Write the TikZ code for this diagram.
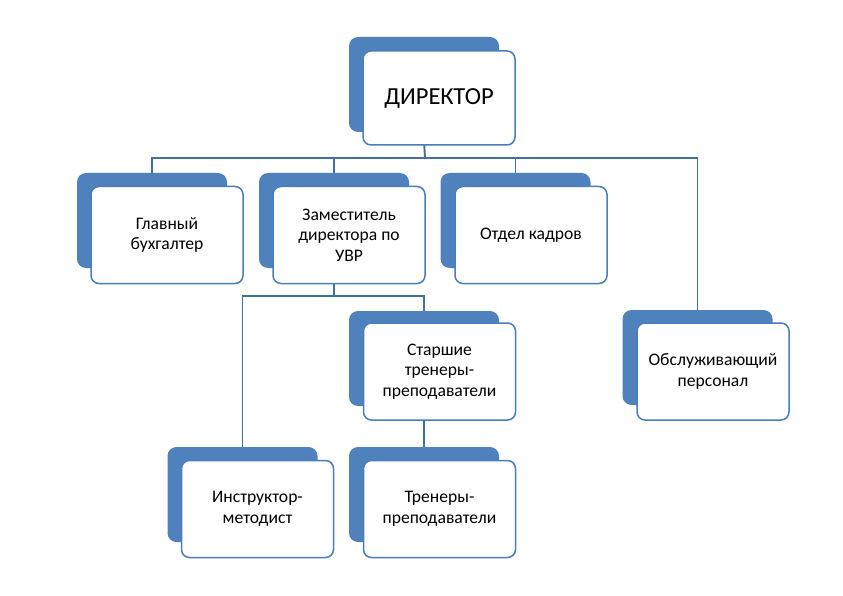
\documentclass[tikz,border=0pt]{standalone}
\usepackage{fontspec}
\setmainfont{Carlito}
\definecolor{blueb}{HTML}{4F81BD}
\definecolor{boxline}{HTML}{4A7EBB}
\definecolor{conn}{HTML}{41709C}
\begin{document}
\begin{tikzpicture}[x=1pt,y=-1pt,
  back/.style={fill=blueb, draw=none, rounded corners=9pt, minimum width=150pt, minimum height=95pt, inner sep=0pt},
  front/.style={fill=white, draw=boxline, line width=1.5pt, rounded corners=8pt, minimum width=152pt, minimum height=97pt, inner sep=2pt, align=center, font=\fontsize{17.6}{20.5}\selectfont},
  conline/.style={draw=conn, line width=1.9pt}]
\useasboundingbox (0,0) rectangle (843,596);
% backs
\node[back] (dirb) at (424,84.5) {};
\node[back] (gbb) at (152,220.5) {};
\node[back] (zamb) at (334,220.5) {};
\node[back] (okb) at (515.5,220.5) {};
\node[back] (osb) at (697.5,357.5) {};
\node[back] (stb) at (424,358.5) {};
\node[back] (inb) at (242.5,494.5) {};
\node[back] (trb) at (424,494.5) {};
% connectors
\coordinate (bus1) at (425,158);
\coordinate (bus2) at (334,296);
\draw[conline] (dirb.center |- 0,140) -- (bus1);
\draw[conline] (gbb.north) |- (bus1) -| (osb.north);
\draw[conline] (zamb.north) -- (zamb.north |- bus1);
\draw[conline] (okb.north) -- (okb.north |- bus1);
\draw[conline] (zamb.center) -- (bus2);
\draw[conline] (inb.north) |- (bus2) -| (stb.north);
\draw[conline] (stb.center) -- (trb.north);
% fronts
\node[front, font=\fontsize{24.5}{28}\selectfont, minimum height=94pt] (dir) at (439,98) {ДИРЕКТОР};
\node[front] (gb) at (167,235) {Главный\\бухгалтер};
\node[front] (zam) at (349,235) {Заместитель\\директора по\\УВР};
\node[front] (ok) at (531,235) {Отдел кадров};
\node[front] (os) at (713,371.5) {Обслуживающий\\персонал};
\node[front] (st) at (439.5,371.5) {Старшие\\тренеры-\\преподаватели};
\node[front] (in) at (257.5,509) {Инструктор-\\методист};
\node[front] (tr) at (439.5,509) {Тренеры-\\преподаватели};
\end{tikzpicture}
\end{document}
